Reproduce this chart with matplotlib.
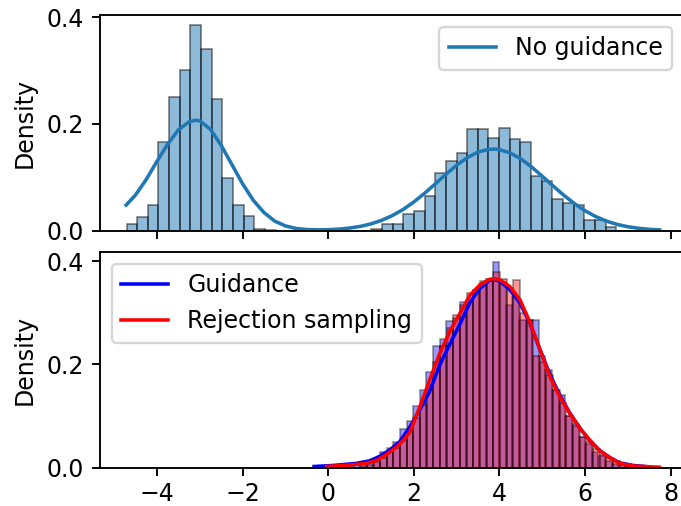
import numpy as np
import matplotlib
matplotlib.use("Agg")
import matplotlib.pyplot as plt
from matplotlib.lines import Line2D

# ---------------------------------------------------------------------------
# Histogram data (density per bin, 50 bins each)
# ---------------------------------------------------------------------------

# unguided samples: bins span [-4.71, 7.72]
free_range = (-4.71, 7.72)
free_density = [
    0.0126, 0.026, 0.048, 0.166, 0.251, 0.302, 0.385, 0.340, 0.247, 0.099,
    0.049, 0.028, 0.0025, 0.0013, 0.0, 0.0, 0.0, 0.0, 0.0, 0.0,
    0.0, 0.0, 0.0, 0.004, 0.013, 0.013, 0.032, 0.037, 0.065, 0.109,
    0.131, 0.145, 0.191, 0.191, 0.173, 0.193, 0.172, 0.167, 0.102, 0.094,
    0.060, 0.051, 0.049, 0.020, 0.020, 0.006, 0.0, 0.0, 0.0, 0.0015,
]

# guided samples: bins span [-0.33, 7.39]
guided_range = (-0.33, 7.39)
guided_density = [
    0.0015, 0.0, 0.0, 0.0, 0.0015, 0.003, 0.004, 0.008, 0.013, 0.019,
    0.030, 0.038, 0.050, 0.075, 0.090, 0.120, 0.150, 0.185, 0.235, 0.250,
    0.285, 0.290, 0.320, 0.320, 0.345, 0.355, 0.365, 0.398, 0.360, 0.316,
    0.330, 0.287, 0.286, 0.286, 0.216, 0.190, 0.150, 0.140, 0.100, 0.085,
    0.060, 0.045, 0.030, 0.022, 0.013, 0.006, 0.004, 0.002, 0.0, 0.0015,
]

# rejection sampling: bins span [-0.03, 7.74]
reject_range = (-0.03, 7.74)
reject_density = [
    0.0015, 0.0, 0.0, 0.0, 0.0, 0.002, 0.004, 0.010, 0.019, 0.032,
    0.038, 0.051, 0.070, 0.096, 0.122, 0.160, 0.205, 0.235, 0.270, 0.295,
    0.315, 0.338, 0.345, 0.361, 0.365, 0.380, 0.365, 0.348, 0.363, 0.300,
    0.287, 0.216, 0.205, 0.180, 0.150, 0.125, 0.100, 0.080, 0.060, 0.050,
    0.035, 0.025, 0.019, 0.013, 0.006, 0.004, 0.0, 0.0, 0.0, 0.0015,
]

# ---------------------------------------------------------------------------
# KDE curves (x, density)
# ---------------------------------------------------------------------------

free_kde_x = [-4.72, -4.5, -4.25, -4.0, -3.75, -3.5, -3.25, -3.1, -3.0, -2.75,
              -2.5, -2.25, -2.0, -1.75, -1.5, -1.25, -1.0, -0.75, -0.5, -0.25,
              0.0, 0.25, 0.5, 0.75, 1.0, 1.25, 1.5, 1.75, 2.0, 2.25,
              2.5, 2.75, 3.0, 3.25, 3.5, 3.75, 3.9, 4.0, 4.25, 4.5,
              4.75, 5.0, 5.25, 5.5, 5.75, 6.0, 6.25, 6.5, 6.75, 7.0,
              7.25, 7.5, 7.74]
free_kde_y = [0.048, 0.067, 0.096, 0.130, 0.162, 0.189, 0.204, 0.207, 0.206, 0.190,
              0.160, 0.124, 0.088, 0.057, 0.034, 0.018, 0.009, 0.0041, 0.0022, 0.0016,
              0.0019, 0.0029, 0.0050, 0.0081, 0.0128, 0.0195, 0.0284, 0.0398, 0.0539, 0.0700,
              0.0877, 0.1058, 0.1227, 0.137, 0.1474, 0.1525, 0.153, 0.152, 0.1457, 0.1345,
              0.1195, 0.102, 0.0841, 0.0666, 0.0509, 0.0373, 0.0264, 0.0179, 0.0117, 0.0074,
              0.0045, 0.0026, 0.0015]

guided_kde_x = [-0.33, 0.12, 0.66, 0.97, 1.21, 1.44, 1.67, 1.91, 2.14, 2.37,
                2.61, 2.84, 3.07, 3.31, 3.54, 3.77, 3.9, 4.01, 4.24, 4.48,
                4.71, 4.94, 5.18, 5.41, 5.64, 5.88, 6.11, 6.34, 6.58, 6.81,
                7.12, 7.39]
guided_kde_y = [0.002, 0.004, 0.008, 0.013, 0.022, 0.034, 0.050, 0.079, 0.112, 0.148,
                0.200, 0.239, 0.277, 0.320, 0.347, 0.363, 0.364, 0.361, 0.345, 0.319,
                0.280, 0.230, 0.180, 0.140, 0.106, 0.076, 0.052, 0.033, 0.019, 0.009,
                0.004, 0.002]

reject_kde_x = [-0.04, 0.51, 0.90, 1.13, 1.36, 1.60, 1.79, 1.91, 2.14, 2.37,
                2.61, 2.84, 3.07, 3.31, 3.54, 3.77, 3.9, 4.01, 4.24, 4.48,
                4.71, 4.94, 5.18, 5.41, 5.64, 5.88, 6.11, 6.34, 6.58, 6.81,
                7.12, 7.74]
reject_kde_y = [0.002, 0.005, 0.008, 0.014, 0.025, 0.040, 0.056, 0.069, 0.118, 0.170,
                0.222, 0.264, 0.298, 0.334, 0.354, 0.365, 0.366, 0.364, 0.351, 0.325,
                0.282, 0.230, 0.176, 0.137, 0.105, 0.076, 0.053, 0.033, 0.019, 0.008,
                0.003, 0.0005]


def draw_hist(ax, span, density, color, alpha):
    edges = np.linspace(span[0], span[1], len(density) + 1)
    ax.hist(edges[:-1], bins=edges, weights=density, color=color,
            alpha=alpha, edgecolor="black", linewidth=0.7)


DPI = 170
fig = plt.figure(figsize=(681 / DPI, 506 / DPI), dpi=DPI)
W, H = 681.0, 506.0
ax_top = fig.add_axes([100 / W, 1 - 230.7 / H, 584 / W, 215.7 / H])
ax_bot = fig.add_axes([100 / W, 1 - 467.5 / H, 584 / W, 215.5 / H], sharex=ax_top)

# top panel: no guidance
draw_hist(ax_top, free_range, free_density, "#1f77b4", 0.5)
ax_top.plot(free_kde_x, free_kde_y, color="#1f77b4", lw=1.5)
ax_top.set_ylabel("Density")
ax_top.tick_params(labelbottom=False)
ax_top.legend(handles=[Line2D([], [], color="#1f77b4", lw=1.5)],
              labels=["No guidance"], loc="upper right")

# bottom panel: guidance vs rejection sampling
draw_hist(ax_bot, guided_range, guided_density, "blue", 0.4)
draw_hist(ax_bot, reject_range, reject_density, "red", 0.4)
ax_bot.plot(guided_kde_x, guided_kde_y, color="blue", lw=1.5)
ax_bot.plot(reject_kde_x, reject_kde_y, color="red", lw=1.5)
ax_bot.set_ylabel("Density")
ax_bot.tick_params(axis="x", pad=2.8)
ax_bot.legend(handles=[Line2D([], [], color="blue", lw=1.5),
                       Line2D([], [], color="red", lw=1.5)],
              labels=["Guidance", "Rejection sampling"], loc="upper left")

ax_top.set_xlim(-5.33, 8.31)
ax_top.set_ylim(0, max(free_density) * 1.05)
ax_bot.set_ylim(0, max(max(guided_density), max(reject_density)) * 1.05)
for ax in (ax_top, ax_bot):
    ax.set_yticks([0.0, 0.2, 0.4])

fig.savefig("out.png", dpi=DPI)
